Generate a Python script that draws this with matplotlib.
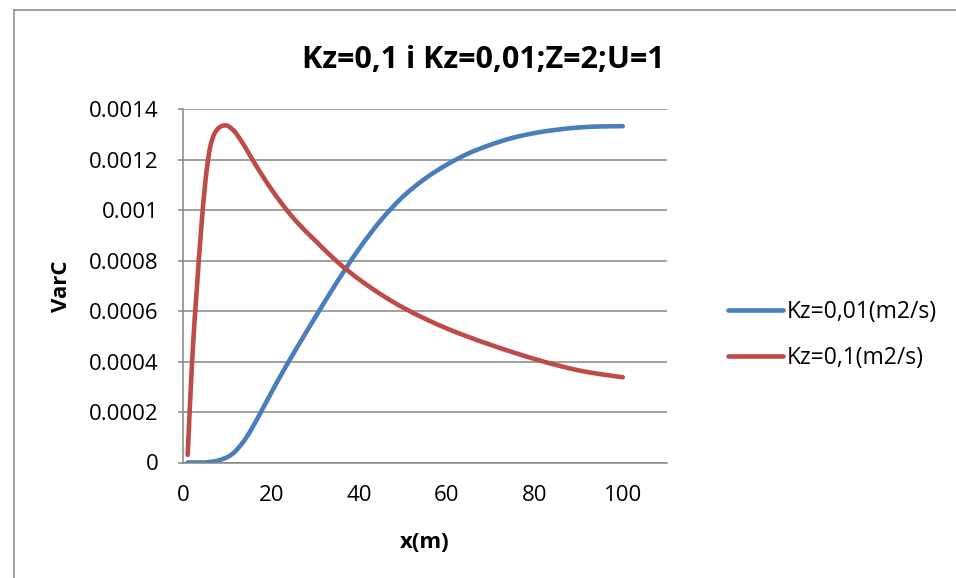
#!/usr/bin/env python3
#
# plot.py
#
# Concentration variance along x for two vertical diffusion coefficients.

import matplotlib
matplotlib.use("Agg")
import matplotlib.pyplot as plt
from matplotlib.lines import Line2D
from matplotlib.patches import PathPatch
from matplotlib.path import Path

# Chart data
x_m = [1, 2, 3, 4, 5, 6, 7, 8, 9, 10, 11, 12, 14, 16, 18, 20, 22.5, 25, 27.5,
       30, 35, 40, 45, 50, 55, 60, 65, 70, 75, 80, 85, 90, 95, 100]

var_c_kz001 = [0, 0, 0, 0, 0, 0.000002, 0.000004, 0.000008, 0.000014,
               0.000021, 0.000032, 0.000047, 0.00009, 0.000147, 0.000211,
               0.000276, 0.000355, 0.00043, 0.000503, 0.000575, 0.000716,
               0.000847, 0.000961, 0.001054, 0.001125, 0.001181, 0.001226,
               0.00126, 0.001287, 0.001306, 0.001319, 0.001328, 0.001332,
               0.001333]

var_c_kz01 = [0.00003, 0.0004, 0.00067, 0.00091, 0.00111, 0.00124, 0.0013,
              0.001325, 0.001335, 0.001335, 0.001323, 0.001305, 0.001252,
              0.001193, 0.001137, 0.001084, 0.001024, 0.00097, 0.000923,
              0.00088, 0.000796, 0.000726, 0.000666, 0.000614, 0.00057,
              0.000531, 0.000497, 0.000466, 0.000437, 0.00041, 0.000386,
              0.000365, 0.00035, 0.000338]

series_labels = ["Kz=0,01(m2/s)", "Kz=0,1(m2/s)"]
chart_title = "Kz=0,1 i Kz=0,01;Z=2;U=1"
x_ticks = [0, 20, 40, 60, 80, 100]
y_ticks = [0, 0.0002, 0.0004, 0.0006, 0.0008, 0.001, 0.0012, 0.0014]
y_tick_labels = ["0", "0.0002", "0.0004", "0.0006", "0.0008", "0.001",
                 "0.0012", "0.0014"]

# Styling
plt.rcParams["font.family"] = ["Open Sans", "DejaVu Sans"]
BLUE = "#4A7EBB"
RED = "#BE4B48"
GRID = "#868686"
LINE_W = 3.3


def smooth_path(xs, ys):
    # Excel-style smoothed line: Catmull-Rom segments as cubic Beziers
    pts = list(zip(xs, ys))
    verts = [pts[0]]
    codes = [Path.MOVETO]
    n = len(pts)
    for i in range(n - 1):
        p0 = pts[max(i - 1, 0)]
        p1 = pts[i]
        p2 = pts[i + 1]
        p3 = pts[min(i + 2, n - 1)]
        c1 = (p1[0] + (p2[0] - p0[0]) / 6, p1[1] + (p2[1] - p0[1]) / 6)
        c2 = (p2[0] - (p3[0] - p1[0]) / 6, p2[1] - (p3[1] - p1[1]) / 6)
        verts += [c1, c2, p2]
        codes += [Path.CURVE4] * 3
    return Path(verts, codes)


W, H = 956, 578
fig = plt.figure(figsize=(W / 100, H / 100), dpi=100)

# Plot area in pixel coordinates of the reference
left, right, top, bottom = 183.3, 666.7, 109.3, 462.5
ax = fig.add_axes([left / W, 1 - bottom / H, (right - left) / W, (bottom - top) / H])

for ys, color, label in ((var_c_kz001, BLUE, series_labels[0]),
                         (var_c_kz01, RED, series_labels[1])):
    ax.add_patch(PathPatch(smooth_path(x_m, ys), fill=False, edgecolor=color,
                           lw=LINE_W, capstyle="round", joinstyle="round"))
    ax.plot([], [], color=color, lw=LINE_W, label=label, solid_capstyle="round")

ax.set_xlim(0, 110)
ax.set_ylim(0, 0.0014)
ax.set_xticks(x_ticks)
ax.set_yticks(y_ticks)
ax.set_yticklabels(y_tick_labels)

ax.grid(axis="y", color=GRID, lw=1.1)
ax.set_axisbelow(True)
for side in ("top", "right"):
    ax.spines[side].set_visible(False)
for side in ("left", "bottom"):
    ax.spines[side].set_color(GRID)
    ax.spines[side].set_linewidth(1.1)

ax.tick_params(axis="y", length=3.5, color=GRID, width=1.1, pad=14,
               labelsize=16)
ax.tick_params(axis="x", length=0, pad=16, labelsize=16)

ax.set_xlabel("x(m)", fontsize=16, fontweight="bold", va="center")
ax.xaxis.set_label_coords(0.5, (bottom - 542) / (bottom - top))
ax.set_ylabel("VarC", fontsize=16, fontweight="bold", va="center")
ax.yaxis.set_label_coords((61 - left) / (right - left), 0.5)

fig.text(483 / W, 1 - 60 / H, chart_title, fontsize=22, fontweight="bold",
         ha="center", va="center")

ax.legend(loc="center left", bbox_to_anchor=(728 / W, 1 - 335 / H),
          bbox_transform=fig.transFigure, frameon=False, fontsize=16.5,
          handlelength=2.4, handletextpad=0.17, labelspacing=0.95,
          borderpad=0, borderaxespad=0)

# Outer chart frame
fig.add_artist(Line2D([14 / W, 14 / W], [0, 1 - 10 / H], color=GRID, lw=1.1))
fig.add_artist(Line2D([14 / W, 1], [1 - 10 / H, 1 - 10 / H], color=GRID, lw=1.1))

fig.savefig("out.png", dpi=100)
